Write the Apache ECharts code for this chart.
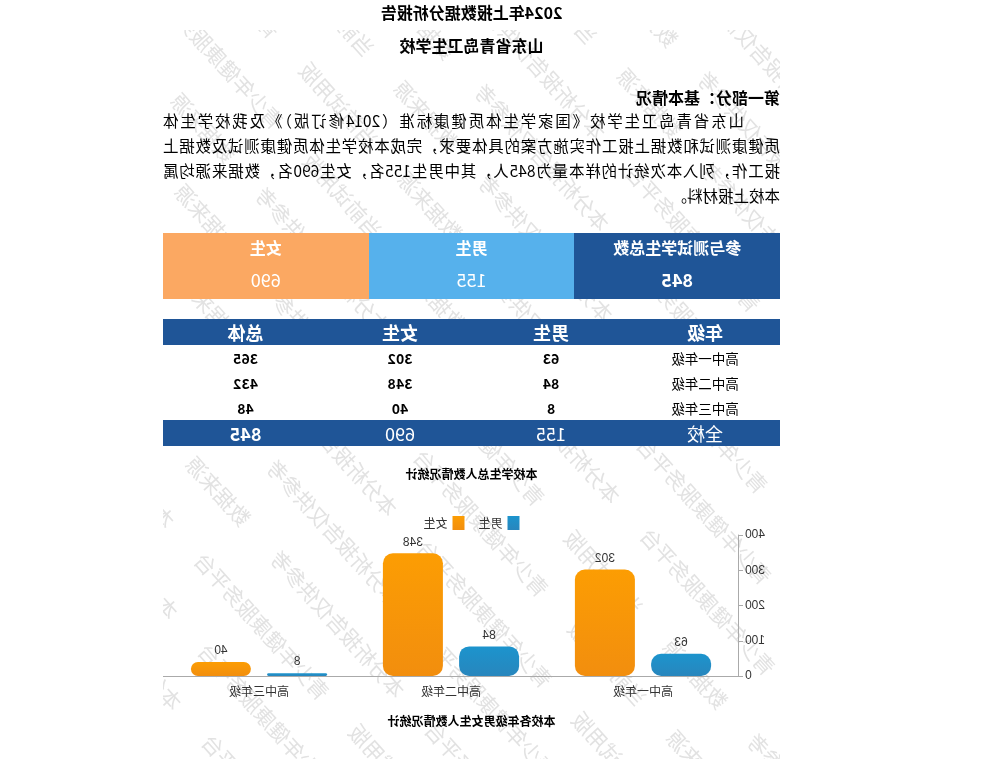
<!DOCTYPE html>
<html>
<head>
<meta charset="utf-8">
<title>2024年上报数据分析报告</title>
<script src="https://cdn.jsdelivr.net/npm/echarts@6.0.0/dist/echarts.min.js"></script>
<style>
html,body{margin:0;padding:0;background:#fff;}
body{font-family:"Noto Sans CJK SC","Noto Sans",sans-serif;color:#000;}
/* 整页镜像 */
#page{position:relative;width:982px;height:759px;overflow:hidden;background:#fff;transform:scaleX(-1);}
#wm{position:absolute;left:202px;top:30px;width:617px;height:729px;overflow:hidden;z-index:0;}
#wm .inner{position:absolute;left:-550px;top:-550px;width:1800px;height:1800px;transform:rotate(-48deg);
  font-size:21px;line-height:58px;color:#e2e2e2;white-space:nowrap;}
.blk{position:absolute;left:202px;width:617px;z-index:1;}
.h1{font-size:16px;font-weight:bold;text-align:center;line-height:20px;}
.sec{font-size:16px;font-weight:bold;line-height:20px;}
.para div{font-size:15.5px;line-height:25px;height:25px;text-align:justify;text-align-last:justify;white-space:nowrap;}
.para div.last{text-align-last:left;}
#sum{display:flex;height:66px;}
#sum .c{flex:1;color:#fff;text-align:center;}
#sum .t{font-size:16px;font-weight:bold;line-height:20px;margin-top:4px;}
#sum .n{font-size:18px;line-height:22px;margin-top:11px;}
table{border-collapse:collapse;width:617px;table-layout:fixed;}
td,th{padding:0;text-align:center;height:25px;}
th{background:#1f5597;color:#fff;font-size:18px;font-weight:bold;}
td{font-size:14px;font-weight:bold;background:#fff;}
td.g{font-weight:normal;font-size:13.5px;}
tr.ft td{background:#1f5597;color:#fff;font-size:18px;font-weight:normal;}
#chart{position:absolute;left:202px;top:455px;width:617px;height:290px;z-index:1;}
</style>
</head>
<body>
<div id="page">
  <div id="wm"><div class="inner" id="wmInner"></div></div>

  <div class="blk h1" style="top:2px;">2024年上报数据分析报告</div>
  <div class="blk h1" style="top:35px;">山东省青岛卫生学校</div>
  <div class="blk sec" style="top:87px;">第一部分：基本情况</div>
  <div class="blk para" style="top:108px;">
    <div style="padding-left:36px;">山东省青岛卫生学校《国家学生体质健康标准（2014修订版）》及我校学生体</div>
    <div>质健康测试和数据上报工作实施方案的具体要求，完成本校学生体质健康测试及数据上</div>
    <div>报工作，列入本次统计的样本量为845人，其中男生155名，女生690名，数据来源均属</div>
    <div class="last">本校上报材料。</div>
  </div>

  <div class="blk" id="sum" style="top:233px;"></div>
  <div class="blk" style="top:319px;"><table id="tbl"></table></div>

  <div id="chart"></div>
</div>
<script>
// 数据
var grades = ['高中一年级', '高中二年级', '高中三年级'];
var boys = [63, 84, 8];
var girls = [302, 348, 40];
var totals = [365, 432, 48];
var allLabel = '全校';
var allBoys = 155, allGirls = 690, allTotal = 845;
var headCols = ['年级', '男生', '女生', '总体'];
var sumHeads = ['参与测试学生总数', '男生', '女生'];
var sumVals = [allTotal, allBoys, allGirls];
var yTicks = [0, 100, 200, 300, 400];
var wmWords = ['青少年健康服务平台', '本分析报告仅供参考', '数据来源', '当前试用版'];

// 汇总色块
var sumColors = ['#1f5597', '#56b1ec', '#fba862'];
var sumHtml = '';
for (var i = 0; i < sumHeads.length; i++) {
  sumHtml += '<div class="c" style="background:' + sumColors[i] + '"><div class="t">' + sumHeads[i] +
    '</div><div class="n"' + (i === 0 ? ' style="font-weight:bold"' : '') + '>' + sumVals[i] + '</div></div>';
}
document.getElementById('sum').innerHTML = sumHtml;

// 年级表
var colW = [150, 158, 144, 165];
var t = '<colgroup>';
colW.forEach(function (w) { t += '<col style="width:' + w + 'px">'; });
t += '</colgroup><tr>';
headCols.forEach(function (h) { t += '<th>' + h + '</th>'; });
t += '</tr>';
for (var r = 0; r < grades.length; r++) {
  t += '<tr><td class="g">' + grades[r] + '</td><td>' + boys[r] + '</td><td>' + girls[r] + '</td><td>' + totals[r] + '</td></tr>';
}
t += '<tr class="ft"><td>' + allLabel + '</td><td>' + allBoys + '</td><td>' + allGirls + '</td><td style="font-weight:bold">' + allTotal + '</td></tr>';
document.getElementById('tbl').innerHTML = t;

// 水印
var line = '';
for (var k = 0; k < 6; k++) { line += wmWords.join('　　') + '　　'; }
var wmHtml = '';
for (var j = 0; j < 32; j++) {
  wmHtml += '<div style="margin-left:' + ((j % 5) * -70) + 'px">' + line + '</div>';
}
document.getElementById('wmInner').innerHTML = wmHtml;

// 柱状图
var myChart = echarts.init(document.getElementById('chart'));
var option = {
  animation: false,
  title: [
    { text: '本校学生总人数情况统计', left: 'center', top: 8,
      textStyle: { fontSize: 12, fontWeight: 'bold', color: '#000', fontFamily: 'Noto Sans CJK SC' } },
    { text: '本校各年级男女生人数情况统计', left: 'center', top: 255,
      textStyle: { fontSize: 12, fontWeight: 'bold', color: '#000', fontFamily: 'Noto Sans CJK SC' } }
  ],
  legend: {
    data: ['男生', '女生'],
    top: 56,
    left: 'center',
    icon: 'rect',
    itemWidth: 12,
    itemHeight: 14,
    itemGap: 14,
    textStyle: { fontSize: 12, color: '#333', fontFamily: 'Noto Sans CJK SC' }
  },
  grid: { left: 41, right: 0, top: 80, bottom: 69, containLabel: false },
  xAxis: {
    type: 'category',
    data: grades,
    axisLine: { lineStyle: { color: '#aaa' } },
    axisTick: { show: false },
    axisLabel: { color: '#333', fontSize: 12, margin: 9, fontFamily: 'Noto Sans CJK SC' }
  },
  yAxis: {
    type: 'value',
    min: yTicks[0],
    max: yTicks[yTicks.length - 1],
    interval: 100,
    axisLine: { show: true, lineStyle: { color: '#aaa' } },
    axisTick: { show: true, length: 4, lineStyle: { color: '#aaa' } },
    splitLine: { show: false },
    axisLabel: { color: '#333', fontSize: 12, margin: 6 }
  },
  series: [
    {
      name: '男生',
      type: 'bar',
      data: boys,
      barWidth: 60,
      barGap: '27%',
      itemStyle: {
        borderRadius: 10,
        color: new echarts.graphic.LinearGradient(0, 0, 0, 1, [
          { offset: 0, color: '#1c94cd' }, { offset: 1, color: '#2886bd' }
        ])
      },
      label: { show: true, position: 'top', color: '#333', fontSize: 12 }
    },
    {
      name: '女生',
      type: 'bar',
      data: girls,
      barWidth: 60,
      itemStyle: {
        borderRadius: 10,
        color: new echarts.graphic.LinearGradient(0, 0, 0, 1, [
          { offset: 0, color: '#fc9d03' }, { offset: 1, color: '#f28e0e' }
        ])
      },
      label: { show: true, position: 'top', color: '#333', fontSize: 12 }
    }
  ],
  color: ['#1f8fc7', '#f99a08']
};
myChart.setOption(option);
</script>
</body>
</html>
